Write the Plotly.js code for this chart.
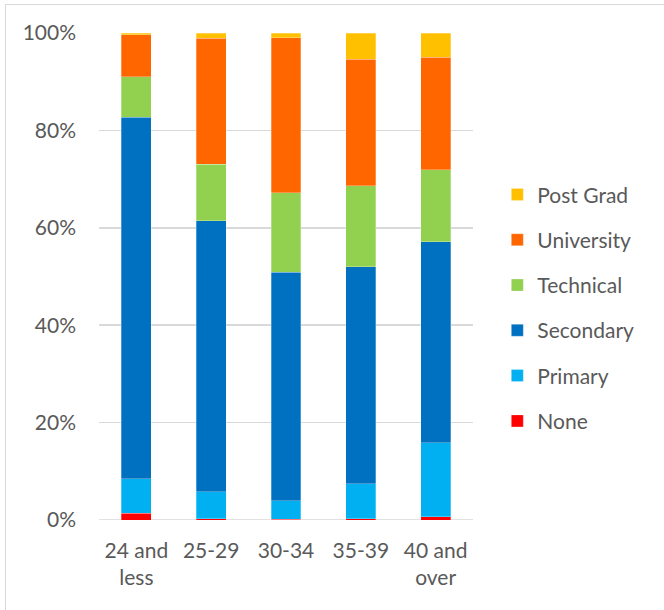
<!DOCTYPE html>
<html>
<head>
<meta charset="utf-8">
<script src="https://cdn.plot.ly/plotly-3.0.1.min.js"></script>
<style>
  html, body { margin: 0; padding: 0; background: #fff; }
  #frame { position: absolute; left: 5px; top: 4px; width: 680px; height: 640px;
           border-left: 1.5px solid #d9d9d9; border-top: 1.5px solid #d9d9d9; pointer-events: none; }
  #chart { position: absolute; left: 0; top: 0; width: 664px; height: 610px; }
</style>
</head>
<body>
<div id="chart"></div>
<div id="frame"></div>
<script>
// Categories (age groups)
const ageGroups = ["24 and<br>less", "25-29", "30-34", "35-39", "40 and<br>over"];

// Share of each education level (%) per age group
const none       = [1.4, 0.3, 0.2, 0.3, 0.7];
const primary    = [7.1, 5.5, 3.8, 7.1, 15.2];
const secondary  = [74.2, 55.6, 46.9, 44.6, 41.2];
const technical  = [8.3, 11.6, 16.3, 16.6, 14.8];
const university = [8.6, 25.9, 31.8, 26.0, 23.1];
const postGrad   = [0.4, 1.1, 1.0, 5.4, 5.0];

const seriesNames  = ["None", "Primary", "Secondary", "Technical", "University", "Post Grad"];
const seriesValues = [none, primary, secondary, technical, university, postGrad];
const seriesColors = ["#FF0000", "#00B0F0", "#0070C0", "#92D050", "#FF6600", "#FFC000"];

const yTickVals = [0, 20, 40, 60, 80, 100];
const yTickText = ["0%", "20%", "40%", "60%", "80%", "100%"];

const FONT = "Lato, 'Open Sans', sans-serif";
const TXT = "#595959";

const traces = seriesNames.map((name, i) => ({
  type: "bar",
  name: name,
  x: ageGroups,
  y: seriesValues[i],
  legendgroup: "g" + i,
  legendrank: 1000 - i * 100,
  marker: { color: seriesColors[i], line: { color: "rgba(255,255,255,0.35)", width: 0.8 } },
  hoverinfo: "skip"
}));

const layout = {
  width: 664,
  height: 610,
  autosize: false,
  margin: { l: 99.4, r: 191.4, t: 33.3, b: 89.7, pad: 0 },
  paper_bgcolor: "rgba(0,0,0,0)",
  plot_bgcolor: "#fff",
  barmode: "stack",
  barnorm: "percent",
  bargap: 0.6,
  showlegend: true,
  hovermode: false,
  font: { family: FONT, size: 21, color: TXT },
  xaxis: {
    type: "category",
    showgrid: false,
    zeroline: false,
    showline: false,
    ticks: "",
    ticklabelstandoff: 16,
    tickfont: { family: FONT, size: 21, color: TXT }
  },
  yaxis: {
    range: [0, 100],
    tickvals: yTickVals,
    ticktext: yTickText,
    showgrid: true,
    gridcolor: "#D9D9D9",
    gridwidth: 1.5,
    zeroline: false,
    showline: false,
    ticks: "",
    ticklabelstandoff: 22,
    tickfont: { family: FONT, size: 21, color: TXT }
  },
  legend: {
    traceorder: "grouped",
    x: 1.065,
    xanchor: "left",
    y: 0.710,
    yanchor: "top",
    tracegroupgap: 15,
    bgcolor: "rgba(0,0,0,0)",
    font: { family: FONT, size: 21, color: TXT }
  },
  shapes: [{
    type: "line", xref: "paper", yref: "y", x0: 0, x1: 1, y0: 0, y1: 0,
    line: { color: "#D9D9D9", width: 1.5 }, layer: "below"
  }]
};

Plotly.newPlot("chart", traces, layout, { displayModeBar: false, staticPlot: true });
</script>
</body>
</html>
